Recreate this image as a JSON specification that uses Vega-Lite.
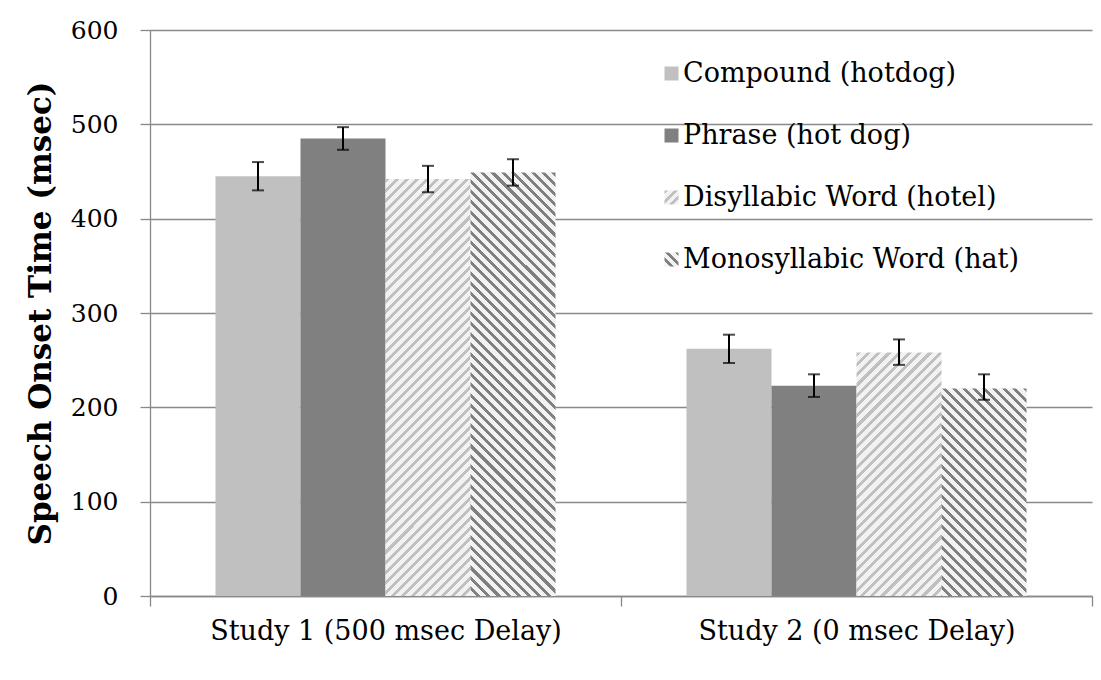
{
  "$schema": "https://vega.github.io/schema/vega-lite/v6.json",
  "width": 942,
  "height": 566,
  "autosize": {"type": "none"},
  "padding": {"left": 150, "top": 30, "right": 9, "bottom": 84},
  "background": "white",
  "data": {"values": [
    {"study": "Study 1 (500 msec Delay)", "series": "Compound (hotdog)", "value": 445, "lo": 430, "hi": 460},
    {"study": "Study 1 (500 msec Delay)", "series": "Phrase (hot dog)", "value": 485, "lo": 473, "hi": 497},
    {"study": "Study 1 (500 msec Delay)", "series": "Disyllabic Word (hotel)", "value": 442, "lo": 428, "hi": 456},
    {"study": "Study 1 (500 msec Delay)", "series": "Monosyllabic Word (hat)", "value": 449, "lo": 435, "hi": 463},
    {"study": "Study 2 (0 msec Delay)", "series": "Compound (hotdog)", "value": 262, "lo": 247, "hi": 277},
    {"study": "Study 2 (0 msec Delay)", "series": "Phrase (hot dog)", "value": 223, "lo": 211, "hi": 235},
    {"study": "Study 2 (0 msec Delay)", "series": "Disyllabic Word (hotel)", "value": 258, "lo": 245, "hi": 272},
    {"study": "Study 2 (0 msec Delay)", "series": "Monosyllabic Word (hat)", "value": 220, "lo": 208, "hi": 235}
  ]},
  "encoding": {
    "x": {"field": "study", "type": "nominal", "title": null, "sort": null,
      "scale": {"paddingInner": 0, "paddingOuter": 0},
      "axis": {"tickBand": "extent", "labelAngle": 0, "grid": false, "labelLimit": 600}},
    "xOffset": {"field": "series", "type": "nominal",
      "scale": {"domain": ["Compound (hotdog)", "Phrase (hot dog)", "Disyllabic Word (hotel)", "Monosyllabic Word (hat)"], "paddingInner": 0, "paddingOuter": 0.7706}}
  },
  "layer": [
    {
      "transform": [{"filter": "datum.series === 'Compound (hotdog)' || datum.series === 'Phrase (hot dog)'"}],
      "mark": {"type": "bar"},
      "encoding": {
        "y": {"field": "value", "type": "quantitative", "title": "Speech Onset Time (msec)", "scale": {"domain": [0, 600], "nice": false}},
        "color": {"field": "series", "type": "nominal",
          "scale": {"domain": ["Compound (hotdog)", "Phrase (hot dog)", "Disyllabic Word (hotel)", "Monosyllabic Word (hat)"],
                    "range": ["silver", "gray",
                      {"expr": "{gradient:'linear',x1:0,y1:0,x2:1,y2:1,stops:[{offset:0,color:'silver'},{offset:0.1333,color:'silver'},{offset:0.1333,color:'#f2f2f2'},{offset:0.3333,color:'#f2f2f2'},{offset:0.3333,color:'silver'},{offset:0.4667,color:'silver'},{offset:0.4667,color:'#f2f2f2'},{offset:0.6667,color:'#f2f2f2'},{offset:0.6667,color:'silver'},{offset:0.8,color:'silver'},{offset:0.8,color:'#f2f2f2'},{offset:1,color:'#f2f2f2'}]}"},
                      {"expr": "{gradient:'linear',x1:1,y1:0,x2:0,y2:1,stops:[{offset:0,color:'gray'},{offset:0.1333,color:'gray'},{offset:0.1333,color:'#f2f2f2'},{offset:0.3333,color:'#f2f2f2'},{offset:0.3333,color:'gray'},{offset:0.4667,color:'gray'},{offset:0.4667,color:'#f2f2f2'},{offset:0.6667,color:'#f2f2f2'},{offset:0.6667,color:'gray'},{offset:0.8,color:'gray'},{offset:0.8,color:'#f2f2f2'},{offset:1,color:'#f2f2f2'}]}"}
                    ]},
          "legend": {"title": null, "orient": "none", "legendX": 508, "legendY": 30, "direction": "vertical",
            "symbolType": "square", "symbolSize": 196, "symbolStrokeWidth": 0,
            "labelFont": "DejaVu Serif", "labelFontSize": 27, "labelColor": "black", "labelOffset": -2,
            "rowPadding": 34, "padding": 0, "labelLimit": 600}
        }
      }
    },
    {
      "transform": [{"filter": "datum.series === 'Disyllabic Word (hotel)' && datum.study === 'Study 1 (500 msec Delay)'"}],
      "mark": {"type": "bar", "fill": {"gradient": "linear", "x1": 0, "y1": 0, "x2": 0.2357, "y2": 1.1558, "stops": [
        {"offset":0,"color":"silver"},{"offset":0.008,"color":"silver"},{"offset":0.008,"color":"#f2f2f2"},{"offset":0.02,"color":"#f2f2f2"},
        {"offset":0.02,"color":"silver"},{"offset":0.028,"color":"silver"},{"offset":0.028,"color":"#f2f2f2"},{"offset":0.04,"color":"#f2f2f2"},
        {"offset":0.04,"color":"silver"},{"offset":0.048,"color":"silver"},{"offset":0.048,"color":"#f2f2f2"},{"offset":0.06,"color":"#f2f2f2"},
        {"offset":0.06,"color":"silver"},{"offset":0.068,"color":"silver"},{"offset":0.068,"color":"#f2f2f2"},{"offset":0.08,"color":"#f2f2f2"},
        {"offset":0.08,"color":"silver"},{"offset":0.088,"color":"silver"},{"offset":0.088,"color":"#f2f2f2"},{"offset":0.1,"color":"#f2f2f2"},
        {"offset":0.1,"color":"silver"},{"offset":0.108,"color":"silver"},{"offset":0.108,"color":"#f2f2f2"},{"offset":0.12,"color":"#f2f2f2"},
        {"offset":0.12,"color":"silver"},{"offset":0.128,"color":"silver"},{"offset":0.128,"color":"#f2f2f2"},{"offset":0.14,"color":"#f2f2f2"},
        {"offset":0.14,"color":"silver"},{"offset":0.148,"color":"silver"},{"offset":0.148,"color":"#f2f2f2"},{"offset":0.16,"color":"#f2f2f2"},
        {"offset":0.16,"color":"silver"},{"offset":0.168,"color":"silver"},{"offset":0.168,"color":"#f2f2f2"},{"offset":0.18,"color":"#f2f2f2"},
        {"offset":0.18,"color":"silver"},{"offset":0.188,"color":"silver"},{"offset":0.188,"color":"#f2f2f2"},{"offset":0.2,"color":"#f2f2f2"},
        {"offset":0.2,"color":"silver"},{"offset":0.208,"color":"silver"},{"offset":0.208,"color":"#f2f2f2"},{"offset":0.22,"color":"#f2f2f2"},
        {"offset":0.22,"color":"silver"},{"offset":0.228,"color":"silver"},{"offset":0.228,"color":"#f2f2f2"},{"offset":0.24,"color":"#f2f2f2"},
        {"offset":0.24,"color":"silver"},{"offset":0.248,"color":"silver"},{"offset":0.248,"color":"#f2f2f2"},{"offset":0.26,"color":"#f2f2f2"},
        {"offset":0.26,"color":"silver"},{"offset":0.268,"color":"silver"},{"offset":0.268,"color":"#f2f2f2"},{"offset":0.28,"color":"#f2f2f2"},
        {"offset":0.28,"color":"silver"},{"offset":0.288,"color":"silver"},{"offset":0.288,"color":"#f2f2f2"},{"offset":0.3,"color":"#f2f2f2"},
        {"offset":0.3,"color":"silver"},{"offset":0.308,"color":"silver"},{"offset":0.308,"color":"#f2f2f2"},{"offset":0.32,"color":"#f2f2f2"},
        {"offset":0.32,"color":"silver"},{"offset":0.328,"color":"silver"},{"offset":0.328,"color":"#f2f2f2"},{"offset":0.34,"color":"#f2f2f2"},
        {"offset":0.34,"color":"silver"},{"offset":0.348,"color":"silver"},{"offset":0.348,"color":"#f2f2f2"},{"offset":0.36,"color":"#f2f2f2"},
        {"offset":0.36,"color":"silver"},{"offset":0.368,"color":"silver"},{"offset":0.368,"color":"#f2f2f2"},{"offset":0.38,"color":"#f2f2f2"},
        {"offset":0.38,"color":"silver"},{"offset":0.388,"color":"silver"},{"offset":0.388,"color":"#f2f2f2"},{"offset":0.4,"color":"#f2f2f2"},
        {"offset":0.4,"color":"silver"},{"offset":0.408,"color":"silver"},{"offset":0.408,"color":"#f2f2f2"},{"offset":0.42,"color":"#f2f2f2"},
        {"offset":0.42,"color":"silver"},{"offset":0.428,"color":"silver"},{"offset":0.428,"color":"#f2f2f2"},{"offset":0.44,"color":"#f2f2f2"},
        {"offset":0.44,"color":"silver"},{"offset":0.448,"color":"silver"},{"offset":0.448,"color":"#f2f2f2"},{"offset":0.46,"color":"#f2f2f2"},
        {"offset":0.46,"color":"silver"},{"offset":0.468,"color":"silver"},{"offset":0.468,"color":"#f2f2f2"},{"offset":0.48,"color":"#f2f2f2"},
        {"offset":0.48,"color":"silver"},{"offset":0.488,"color":"silver"},{"offset":0.488,"color":"#f2f2f2"},{"offset":0.5,"color":"#f2f2f2"},
        {"offset":0.5,"color":"silver"},{"offset":0.508,"color":"silver"},{"offset":0.508,"color":"#f2f2f2"},{"offset":0.52,"color":"#f2f2f2"},
        {"offset":0.52,"color":"silver"},{"offset":0.528,"color":"silver"},{"offset":0.528,"color":"#f2f2f2"},{"offset":0.54,"color":"#f2f2f2"},
        {"offset":0.54,"color":"silver"},{"offset":0.548,"color":"silver"},{"offset":0.548,"color":"#f2f2f2"},{"offset":0.56,"color":"#f2f2f2"},
        {"offset":0.56,"color":"silver"},{"offset":0.568,"color":"silver"},{"offset":0.568,"color":"#f2f2f2"},{"offset":0.58,"color":"#f2f2f2"},
        {"offset":0.58,"color":"silver"},{"offset":0.588,"color":"silver"},{"offset":0.588,"color":"#f2f2f2"},{"offset":0.6,"color":"#f2f2f2"},
        {"offset":0.6,"color":"silver"},{"offset":0.608,"color":"silver"},{"offset":0.608,"color":"#f2f2f2"},{"offset":0.62,"color":"#f2f2f2"},
        {"offset":0.62,"color":"silver"},{"offset":0.628,"color":"silver"},{"offset":0.628,"color":"#f2f2f2"},{"offset":0.64,"color":"#f2f2f2"},
        {"offset":0.64,"color":"silver"},{"offset":0.648,"color":"silver"},{"offset":0.648,"color":"#f2f2f2"},{"offset":0.66,"color":"#f2f2f2"},
        {"offset":0.66,"color":"silver"},{"offset":0.668,"color":"silver"},{"offset":0.668,"color":"#f2f2f2"},{"offset":0.68,"color":"#f2f2f2"},
        {"offset":0.68,"color":"silver"},{"offset":0.688,"color":"silver"},{"offset":0.688,"color":"#f2f2f2"},{"offset":0.7,"color":"#f2f2f2"},
        {"offset":0.7,"color":"silver"},{"offset":0.708,"color":"silver"},{"offset":0.708,"color":"#f2f2f2"},{"offset":0.72,"color":"#f2f2f2"},
        {"offset":0.72,"color":"silver"},{"offset":0.728,"color":"silver"},{"offset":0.728,"color":"#f2f2f2"},{"offset":0.74,"color":"#f2f2f2"},
        {"offset":0.74,"color":"silver"},{"offset":0.748,"color":"silver"},{"offset":0.748,"color":"#f2f2f2"},{"offset":0.76,"color":"#f2f2f2"},
        {"offset":0.76,"color":"silver"},{"offset":0.768,"color":"silver"},{"offset":0.768,"color":"#f2f2f2"},{"offset":0.78,"color":"#f2f2f2"},
        {"offset":0.78,"color":"silver"},{"offset":0.788,"color":"silver"},{"offset":0.788,"color":"#f2f2f2"},{"offset":0.8,"color":"#f2f2f2"},
        {"offset":0.8,"color":"silver"},{"offset":0.808,"color":"silver"},{"offset":0.808,"color":"#f2f2f2"},{"offset":0.82,"color":"#f2f2f2"},
        {"offset":0.82,"color":"silver"},{"offset":0.828,"color":"silver"},{"offset":0.828,"color":"#f2f2f2"},{"offset":0.84,"color":"#f2f2f2"},
        {"offset":0.84,"color":"silver"},{"offset":0.848,"color":"silver"},{"offset":0.848,"color":"#f2f2f2"},{"offset":0.86,"color":"#f2f2f2"},
        {"offset":0.86,"color":"silver"},{"offset":0.868,"color":"silver"},{"offset":0.868,"color":"#f2f2f2"},{"offset":0.88,"color":"#f2f2f2"},
        {"offset":0.88,"color":"silver"},{"offset":0.888,"color":"silver"},{"offset":0.888,"color":"#f2f2f2"},{"offset":0.9,"color":"#f2f2f2"},
        {"offset":0.9,"color":"silver"},{"offset":0.908,"color":"silver"},{"offset":0.908,"color":"#f2f2f2"},{"offset":0.92,"color":"#f2f2f2"},
        {"offset":0.92,"color":"silver"},{"offset":0.928,"color":"silver"},{"offset":0.928,"color":"#f2f2f2"},{"offset":0.94,"color":"#f2f2f2"},
        {"offset":0.94,"color":"silver"},{"offset":0.948,"color":"silver"},{"offset":0.948,"color":"#f2f2f2"},{"offset":0.96,"color":"#f2f2f2"},
        {"offset":0.96,"color":"silver"},{"offset":0.968,"color":"silver"},{"offset":0.968,"color":"#f2f2f2"},{"offset":0.98,"color":"#f2f2f2"},
        {"offset":0.98,"color":"silver"},{"offset":0.988,"color":"silver"},{"offset":0.988,"color":"#f2f2f2"},{"offset":1,"color":"#f2f2f2"}
      ]}},
      "encoding": {
        "y": {"field": "value", "type": "quantitative", "title": "Speech Onset Time (msec)"}
      }
    },
    {
      "transform": [{"filter": "datum.series === 'Monosyllabic Word (hat)' && datum.study === 'Study 1 (500 msec Delay)'"}],
      "mark": {"type": "bar", "fill": {"gradient": "linear", "x1": 1, "y1": 0, "x2": 0.7684, "y2": 1.1542, "stops": [
        {"offset":0,"color":"gray"},{"offset":0.008,"color":"gray"},{"offset":0.008,"color":"#f2f2f2"},{"offset":0.02,"color":"#f2f2f2"},
        {"offset":0.02,"color":"gray"},{"offset":0.028,"color":"gray"},{"offset":0.028,"color":"#f2f2f2"},{"offset":0.04,"color":"#f2f2f2"},
        {"offset":0.04,"color":"gray"},{"offset":0.048,"color":"gray"},{"offset":0.048,"color":"#f2f2f2"},{"offset":0.06,"color":"#f2f2f2"},
        {"offset":0.06,"color":"gray"},{"offset":0.068,"color":"gray"},{"offset":0.068,"color":"#f2f2f2"},{"offset":0.08,"color":"#f2f2f2"},
        {"offset":0.08,"color":"gray"},{"offset":0.088,"color":"gray"},{"offset":0.088,"color":"#f2f2f2"},{"offset":0.1,"color":"#f2f2f2"},
        {"offset":0.1,"color":"gray"},{"offset":0.108,"color":"gray"},{"offset":0.108,"color":"#f2f2f2"},{"offset":0.12,"color":"#f2f2f2"},
        {"offset":0.12,"color":"gray"},{"offset":0.128,"color":"gray"},{"offset":0.128,"color":"#f2f2f2"},{"offset":0.14,"color":"#f2f2f2"},
        {"offset":0.14,"color":"gray"},{"offset":0.148,"color":"gray"},{"offset":0.148,"color":"#f2f2f2"},{"offset":0.16,"color":"#f2f2f2"},
        {"offset":0.16,"color":"gray"},{"offset":0.168,"color":"gray"},{"offset":0.168,"color":"#f2f2f2"},{"offset":0.18,"color":"#f2f2f2"},
        {"offset":0.18,"color":"gray"},{"offset":0.188,"color":"gray"},{"offset":0.188,"color":"#f2f2f2"},{"offset":0.2,"color":"#f2f2f2"},
        {"offset":0.2,"color":"gray"},{"offset":0.208,"color":"gray"},{"offset":0.208,"color":"#f2f2f2"},{"offset":0.22,"color":"#f2f2f2"},
        {"offset":0.22,"color":"gray"},{"offset":0.228,"color":"gray"},{"offset":0.228,"color":"#f2f2f2"},{"offset":0.24,"color":"#f2f2f2"},
        {"offset":0.24,"color":"gray"},{"offset":0.248,"color":"gray"},{"offset":0.248,"color":"#f2f2f2"},{"offset":0.26,"color":"#f2f2f2"},
        {"offset":0.26,"color":"gray"},{"offset":0.268,"color":"gray"},{"offset":0.268,"color":"#f2f2f2"},{"offset":0.28,"color":"#f2f2f2"},
        {"offset":0.28,"color":"gray"},{"offset":0.288,"color":"gray"},{"offset":0.288,"color":"#f2f2f2"},{"offset":0.3,"color":"#f2f2f2"},
        {"offset":0.3,"color":"gray"},{"offset":0.308,"color":"gray"},{"offset":0.308,"color":"#f2f2f2"},{"offset":0.32,"color":"#f2f2f2"},
        {"offset":0.32,"color":"gray"},{"offset":0.328,"color":"gray"},{"offset":0.328,"color":"#f2f2f2"},{"offset":0.34,"color":"#f2f2f2"},
        {"offset":0.34,"color":"gray"},{"offset":0.348,"color":"gray"},{"offset":0.348,"color":"#f2f2f2"},{"offset":0.36,"color":"#f2f2f2"},
        {"offset":0.36,"color":"gray"},{"offset":0.368,"color":"gray"},{"offset":0.368,"color":"#f2f2f2"},{"offset":0.38,"color":"#f2f2f2"},
        {"offset":0.38,"color":"gray"},{"offset":0.388,"color":"gray"},{"offset":0.388,"color":"#f2f2f2"},{"offset":0.4,"color":"#f2f2f2"},
        {"offset":0.4,"color":"gray"},{"offset":0.408,"color":"gray"},{"offset":0.408,"color":"#f2f2f2"},{"offset":0.42,"color":"#f2f2f2"},
        {"offset":0.42,"color":"gray"},{"offset":0.428,"color":"gray"},{"offset":0.428,"color":"#f2f2f2"},{"offset":0.44,"color":"#f2f2f2"},
        {"offset":0.44,"color":"gray"},{"offset":0.448,"color":"gray"},{"offset":0.448,"color":"#f2f2f2"},{"offset":0.46,"color":"#f2f2f2"},
        {"offset":0.46,"color":"gray"},{"offset":0.468,"color":"gray"},{"offset":0.468,"color":"#f2f2f2"},{"offset":0.48,"color":"#f2f2f2"},
        {"offset":0.48,"color":"gray"},{"offset":0.488,"color":"gray"},{"offset":0.488,"color":"#f2f2f2"},{"offset":0.5,"color":"#f2f2f2"},
        {"offset":0.5,"color":"gray"},{"offset":0.508,"color":"gray"},{"offset":0.508,"color":"#f2f2f2"},{"offset":0.52,"color":"#f2f2f2"},
        {"offset":0.52,"color":"gray"},{"offset":0.528,"color":"gray"},{"offset":0.528,"color":"#f2f2f2"},{"offset":0.54,"color":"#f2f2f2"},
        {"offset":0.54,"color":"gray"},{"offset":0.548,"color":"gray"},{"offset":0.548,"color":"#f2f2f2"},{"offset":0.56,"color":"#f2f2f2"},
        {"offset":0.56,"color":"gray"},{"offset":0.568,"color":"gray"},{"offset":0.568,"color":"#f2f2f2"},{"offset":0.58,"color":"#f2f2f2"},
        {"offset":0.58,"color":"gray"},{"offset":0.588,"color":"gray"},{"offset":0.588,"color":"#f2f2f2"},{"offset":0.6,"color":"#f2f2f2"},
        {"offset":0.6,"color":"gray"},{"offset":0.608,"color":"gray"},{"offset":0.608,"color":"#f2f2f2"},{"offset":0.62,"color":"#f2f2f2"},
        {"offset":0.62,"color":"gray"},{"offset":0.628,"color":"gray"},{"offset":0.628,"color":"#f2f2f2"},{"offset":0.64,"color":"#f2f2f2"},
        {"offset":0.64,"color":"gray"},{"offset":0.648,"color":"gray"},{"offset":0.648,"color":"#f2f2f2"},{"offset":0.66,"color":"#f2f2f2"},
        {"offset":0.66,"color":"gray"},{"offset":0.668,"color":"gray"},{"offset":0.668,"color":"#f2f2f2"},{"offset":0.68,"color":"#f2f2f2"},
        {"offset":0.68,"color":"gray"},{"offset":0.688,"color":"gray"},{"offset":0.688,"color":"#f2f2f2"},{"offset":0.7,"color":"#f2f2f2"},
        {"offset":0.7,"color":"gray"},{"offset":0.708,"color":"gray"},{"offset":0.708,"color":"#f2f2f2"},{"offset":0.72,"color":"#f2f2f2"},
        {"offset":0.72,"color":"gray"},{"offset":0.728,"color":"gray"},{"offset":0.728,"color":"#f2f2f2"},{"offset":0.74,"color":"#f2f2f2"},
        {"offset":0.74,"color":"gray"},{"offset":0.748,"color":"gray"},{"offset":0.748,"color":"#f2f2f2"},{"offset":0.76,"color":"#f2f2f2"},
        {"offset":0.76,"color":"gray"},{"offset":0.768,"color":"gray"},{"offset":0.768,"color":"#f2f2f2"},{"offset":0.78,"color":"#f2f2f2"},
        {"offset":0.78,"color":"gray"},{"offset":0.788,"color":"gray"},{"offset":0.788,"color":"#f2f2f2"},{"offset":0.8,"color":"#f2f2f2"},
        {"offset":0.8,"color":"gray"},{"offset":0.808,"color":"gray"},{"offset":0.808,"color":"#f2f2f2"},{"offset":0.82,"color":"#f2f2f2"},
        {"offset":0.82,"color":"gray"},{"offset":0.828,"color":"gray"},{"offset":0.828,"color":"#f2f2f2"},{"offset":0.84,"color":"#f2f2f2"},
        {"offset":0.84,"color":"gray"},{"offset":0.848,"color":"gray"},{"offset":0.848,"color":"#f2f2f2"},{"offset":0.86,"color":"#f2f2f2"},
        {"offset":0.86,"color":"gray"},{"offset":0.868,"color":"gray"},{"offset":0.868,"color":"#f2f2f2"},{"offset":0.88,"color":"#f2f2f2"},
        {"offset":0.88,"color":"gray"},{"offset":0.888,"color":"gray"},{"offset":0.888,"color":"#f2f2f2"},{"offset":0.9,"color":"#f2f2f2"},
        {"offset":0.9,"color":"gray"},{"offset":0.908,"color":"gray"},{"offset":0.908,"color":"#f2f2f2"},{"offset":0.92,"color":"#f2f2f2"},
        {"offset":0.92,"color":"gray"},{"offset":0.928,"color":"gray"},{"offset":0.928,"color":"#f2f2f2"},{"offset":0.94,"color":"#f2f2f2"},
        {"offset":0.94,"color":"gray"},{"offset":0.948,"color":"gray"},{"offset":0.948,"color":"#f2f2f2"},{"offset":0.96,"color":"#f2f2f2"},
        {"offset":0.96,"color":"gray"},{"offset":0.968,"color":"gray"},{"offset":0.968,"color":"#f2f2f2"},{"offset":0.98,"color":"#f2f2f2"},
        {"offset":0.98,"color":"gray"},{"offset":0.988,"color":"gray"},{"offset":0.988,"color":"#f2f2f2"},{"offset":1,"color":"#f2f2f2"}
      ]}},
      "encoding": {
        "y": {"field": "value", "type": "quantitative", "title": "Speech Onset Time (msec)"}
      }
    },
    {
      "transform": [{"filter": "datum.series === 'Disyllabic Word (hotel)' && datum.study === 'Study 2 (0 msec Delay)'"}],
      "mark": {"type": "bar", "fill": {"gradient": "linear", "x1": 0, "y1": 0, "x2": 0.42, "y2": 1.2026, "stops": [
        {"offset":0,"color":"silver"},{"offset":0.0125,"color":"silver"},{"offset":0.0125,"color":"#f2f2f2"},{"offset":0.03125,"color":"#f2f2f2"},
        {"offset":0.03125,"color":"silver"},{"offset":0.04375,"color":"silver"},{"offset":0.04375,"color":"#f2f2f2"},{"offset":0.0625,"color":"#f2f2f2"},
        {"offset":0.0625,"color":"silver"},{"offset":0.075,"color":"silver"},{"offset":0.075,"color":"#f2f2f2"},{"offset":0.09375,"color":"#f2f2f2"},
        {"offset":0.09375,"color":"silver"},{"offset":0.10625,"color":"silver"},{"offset":0.10625,"color":"#f2f2f2"},{"offset":0.125,"color":"#f2f2f2"},
        {"offset":0.125,"color":"silver"},{"offset":0.1375,"color":"silver"},{"offset":0.1375,"color":"#f2f2f2"},{"offset":0.15625,"color":"#f2f2f2"},
        {"offset":0.15625,"color":"silver"},{"offset":0.16875,"color":"silver"},{"offset":0.16875,"color":"#f2f2f2"},{"offset":0.1875,"color":"#f2f2f2"},
        {"offset":0.1875,"color":"silver"},{"offset":0.2,"color":"silver"},{"offset":0.2,"color":"#f2f2f2"},{"offset":0.21875,"color":"#f2f2f2"},
        {"offset":0.21875,"color":"silver"},{"offset":0.23125,"color":"silver"},{"offset":0.23125,"color":"#f2f2f2"},{"offset":0.25,"color":"#f2f2f2"},
        {"offset":0.25,"color":"silver"},{"offset":0.2625,"color":"silver"},{"offset":0.2625,"color":"#f2f2f2"},{"offset":0.28125,"color":"#f2f2f2"},
        {"offset":0.28125,"color":"silver"},{"offset":0.29375,"color":"silver"},{"offset":0.29375,"color":"#f2f2f2"},{"offset":0.3125,"color":"#f2f2f2"},
        {"offset":0.3125,"color":"silver"},{"offset":0.325,"color":"silver"},{"offset":0.325,"color":"#f2f2f2"},{"offset":0.34375,"color":"#f2f2f2"},
        {"offset":0.34375,"color":"silver"},{"offset":0.35625,"color":"silver"},{"offset":0.35625,"color":"#f2f2f2"},{"offset":0.375,"color":"#f2f2f2"},
        {"offset":0.375,"color":"silver"},{"offset":0.3875,"color":"silver"},{"offset":0.3875,"color":"#f2f2f2"},{"offset":0.40625,"color":"#f2f2f2"},
        {"offset":0.40625,"color":"silver"},{"offset":0.41875,"color":"silver"},{"offset":0.41875,"color":"#f2f2f2"},{"offset":0.4375,"color":"#f2f2f2"},
        {"offset":0.4375,"color":"silver"},{"offset":0.45,"color":"silver"},{"offset":0.45,"color":"#f2f2f2"},{"offset":0.46875,"color":"#f2f2f2"},
        {"offset":0.46875,"color":"silver"},{"offset":0.48125,"color":"silver"},{"offset":0.48125,"color":"#f2f2f2"},{"offset":0.5,"color":"#f2f2f2"},
        {"offset":0.5,"color":"silver"},{"offset":0.5125,"color":"silver"},{"offset":0.5125,"color":"#f2f2f2"},{"offset":0.53125,"color":"#f2f2f2"},
        {"offset":0.53125,"color":"silver"},{"offset":0.54375,"color":"silver"},{"offset":0.54375,"color":"#f2f2f2"},{"offset":0.5625,"color":"#f2f2f2"},
        {"offset":0.5625,"color":"silver"},{"offset":0.575,"color":"silver"},{"offset":0.575,"color":"#f2f2f2"},{"offset":0.59375,"color":"#f2f2f2"},
        {"offset":0.59375,"color":"silver"},{"offset":0.60625,"color":"silver"},{"offset":0.60625,"color":"#f2f2f2"},{"offset":0.625,"color":"#f2f2f2"},
        {"offset":0.625,"color":"silver"},{"offset":0.6375,"color":"silver"},{"offset":0.6375,"color":"#f2f2f2"},{"offset":0.65625,"color":"#f2f2f2"},
        {"offset":0.65625,"color":"silver"},{"offset":0.66875,"color":"silver"},{"offset":0.66875,"color":"#f2f2f2"},{"offset":0.6875,"color":"#f2f2f2"},
        {"offset":0.6875,"color":"silver"},{"offset":0.7,"color":"silver"},{"offset":0.7,"color":"#f2f2f2"},{"offset":0.71875,"color":"#f2f2f2"},
        {"offset":0.71875,"color":"silver"},{"offset":0.73125,"color":"silver"},{"offset":0.73125,"color":"#f2f2f2"},{"offset":0.75,"color":"#f2f2f2"},
        {"offset":0.75,"color":"silver"},{"offset":0.7625,"color":"silver"},{"offset":0.7625,"color":"#f2f2f2"},{"offset":0.78125,"color":"#f2f2f2"},
        {"offset":0.78125,"color":"silver"},{"offset":0.79375,"color":"silver"},{"offset":0.79375,"color":"#f2f2f2"},{"offset":0.8125,"color":"#f2f2f2"},
        {"offset":0.8125,"color":"silver"},{"offset":0.825,"color":"silver"},{"offset":0.825,"color":"#f2f2f2"},{"offset":0.84375,"color":"#f2f2f2"},
        {"offset":0.84375,"color":"silver"},{"offset":0.85625,"color":"silver"},{"offset":0.85625,"color":"#f2f2f2"},{"offset":0.875,"color":"#f2f2f2"},
        {"offset":0.875,"color":"silver"},{"offset":0.8875,"color":"silver"},{"offset":0.8875,"color":"#f2f2f2"},{"offset":0.90625,"color":"#f2f2f2"},
        {"offset":0.90625,"color":"silver"},{"offset":0.91875,"color":"silver"},{"offset":0.91875,"color":"#f2f2f2"},{"offset":0.9375,"color":"#f2f2f2"},
        {"offset":0.9375,"color":"silver"},{"offset":0.95,"color":"silver"},{"offset":0.95,"color":"#f2f2f2"},{"offset":0.96875,"color":"#f2f2f2"},
        {"offset":0.96875,"color":"silver"},{"offset":0.98125,"color":"silver"},{"offset":0.98125,"color":"#f2f2f2"},{"offset":1,"color":"#f2f2f2"}
      ]}},
      "encoding": {
        "y": {"field": "value", "type": "quantitative", "title": "Speech Onset Time (msec)"}
      }
    },
    {
      "transform": [{"filter": "datum.series === 'Monosyllabic Word (hat)' && datum.study === 'Study 2 (0 msec Delay)'"}],
      "mark": {"type": "bar", "fill": {"gradient": "linear", "x1": 1, "y1": 0, "x2": 0.4566, "y2": 1.3265, "stops": [
        {"offset":0,"color":"gray"},{"offset":0.0125,"color":"gray"},{"offset":0.0125,"color":"#f2f2f2"},{"offset":0.03125,"color":"#f2f2f2"},
        {"offset":0.03125,"color":"gray"},{"offset":0.04375,"color":"gray"},{"offset":0.04375,"color":"#f2f2f2"},{"offset":0.0625,"color":"#f2f2f2"},
        {"offset":0.0625,"color":"gray"},{"offset":0.075,"color":"gray"},{"offset":0.075,"color":"#f2f2f2"},{"offset":0.09375,"color":"#f2f2f2"},
        {"offset":0.09375,"color":"gray"},{"offset":0.10625,"color":"gray"},{"offset":0.10625,"color":"#f2f2f2"},{"offset":0.125,"color":"#f2f2f2"},
        {"offset":0.125,"color":"gray"},{"offset":0.1375,"color":"gray"},{"offset":0.1375,"color":"#f2f2f2"},{"offset":0.15625,"color":"#f2f2f2"},
        {"offset":0.15625,"color":"gray"},{"offset":0.16875,"color":"gray"},{"offset":0.16875,"color":"#f2f2f2"},{"offset":0.1875,"color":"#f2f2f2"},
        {"offset":0.1875,"color":"gray"},{"offset":0.2,"color":"gray"},{"offset":0.2,"color":"#f2f2f2"},{"offset":0.21875,"color":"#f2f2f2"},
        {"offset":0.21875,"color":"gray"},{"offset":0.23125,"color":"gray"},{"offset":0.23125,"color":"#f2f2f2"},{"offset":0.25,"color":"#f2f2f2"},
        {"offset":0.25,"color":"gray"},{"offset":0.2625,"color":"gray"},{"offset":0.2625,"color":"#f2f2f2"},{"offset":0.28125,"color":"#f2f2f2"},
        {"offset":0.28125,"color":"gray"},{"offset":0.29375,"color":"gray"},{"offset":0.29375,"color":"#f2f2f2"},{"offset":0.3125,"color":"#f2f2f2"},
        {"offset":0.3125,"color":"gray"},{"offset":0.325,"color":"gray"},{"offset":0.325,"color":"#f2f2f2"},{"offset":0.34375,"color":"#f2f2f2"},
        {"offset":0.34375,"color":"gray"},{"offset":0.35625,"color":"gray"},{"offset":0.35625,"color":"#f2f2f2"},{"offset":0.375,"color":"#f2f2f2"},
        {"offset":0.375,"color":"gray"},{"offset":0.3875,"color":"gray"},{"offset":0.3875,"color":"#f2f2f2"},{"offset":0.40625,"color":"#f2f2f2"},
        {"offset":0.40625,"color":"gray"},{"offset":0.41875,"color":"gray"},{"offset":0.41875,"color":"#f2f2f2"},{"offset":0.4375,"color":"#f2f2f2"},
        {"offset":0.4375,"color":"gray"},{"offset":0.45,"color":"gray"},{"offset":0.45,"color":"#f2f2f2"},{"offset":0.46875,"color":"#f2f2f2"},
        {"offset":0.46875,"color":"gray"},{"offset":0.48125,"color":"gray"},{"offset":0.48125,"color":"#f2f2f2"},{"offset":0.5,"color":"#f2f2f2"},
        {"offset":0.5,"color":"gray"},{"offset":0.5125,"color":"gray"},{"offset":0.5125,"color":"#f2f2f2"},{"offset":0.53125,"color":"#f2f2f2"},
        {"offset":0.53125,"color":"gray"},{"offset":0.54375,"color":"gray"},{"offset":0.54375,"color":"#f2f2f2"},{"offset":0.5625,"color":"#f2f2f2"},
        {"offset":0.5625,"color":"gray"},{"offset":0.575,"color":"gray"},{"offset":0.575,"color":"#f2f2f2"},{"offset":0.59375,"color":"#f2f2f2"},
        {"offset":0.59375,"color":"gray"},{"offset":0.60625,"color":"gray"},{"offset":0.60625,"color":"#f2f2f2"},{"offset":0.625,"color":"#f2f2f2"},
        {"offset":0.625,"color":"gray"},{"offset":0.6375,"color":"gray"},{"offset":0.6375,"color":"#f2f2f2"},{"offset":0.65625,"color":"#f2f2f2"},
        {"offset":0.65625,"color":"gray"},{"offset":0.66875,"color":"gray"},{"offset":0.66875,"color":"#f2f2f2"},{"offset":0.6875,"color":"#f2f2f2"},
        {"offset":0.6875,"color":"gray"},{"offset":0.7,"color":"gray"},{"offset":0.7,"color":"#f2f2f2"},{"offset":0.71875,"color":"#f2f2f2"},
        {"offset":0.71875,"color":"gray"},{"offset":0.73125,"color":"gray"},{"offset":0.73125,"color":"#f2f2f2"},{"offset":0.75,"color":"#f2f2f2"},
        {"offset":0.75,"color":"gray"},{"offset":0.7625,"color":"gray"},{"offset":0.7625,"color":"#f2f2f2"},{"offset":0.78125,"color":"#f2f2f2"},
        {"offset":0.78125,"color":"gray"},{"offset":0.79375,"color":"gray"},{"offset":0.79375,"color":"#f2f2f2"},{"offset":0.8125,"color":"#f2f2f2"},
        {"offset":0.8125,"color":"gray"},{"offset":0.825,"color":"gray"},{"offset":0.825,"color":"#f2f2f2"},{"offset":0.84375,"color":"#f2f2f2"},
        {"offset":0.84375,"color":"gray"},{"offset":0.85625,"color":"gray"},{"offset":0.85625,"color":"#f2f2f2"},{"offset":0.875,"color":"#f2f2f2"},
        {"offset":0.875,"color":"gray"},{"offset":0.8875,"color":"gray"},{"offset":0.8875,"color":"#f2f2f2"},{"offset":0.90625,"color":"#f2f2f2"},
        {"offset":0.90625,"color":"gray"},{"offset":0.91875,"color":"gray"},{"offset":0.91875,"color":"#f2f2f2"},{"offset":0.9375,"color":"#f2f2f2"},
        {"offset":0.9375,"color":"gray"},{"offset":0.95,"color":"gray"},{"offset":0.95,"color":"#f2f2f2"},{"offset":0.96875,"color":"#f2f2f2"},
        {"offset":0.96875,"color":"gray"},{"offset":0.98125,"color":"gray"},{"offset":0.98125,"color":"#f2f2f2"},{"offset":1,"color":"#f2f2f2"}
      ]}},
      "encoding": {
        "y": {"field": "value", "type": "quantitative", "title": "Speech Onset Time (msec)"}
      }
    },
    {
      "mark": {"type": "rule", "color": "black", "strokeWidth": 2},
      "encoding": {
        "y": {"field": "lo", "type": "quantitative", "title": "Speech Onset Time (msec)"},
        "y2": {"field": "hi"}
      }
    },
    {
      "mark": {"type": "tick", "color": "black", "thickness": 2, "size": 12},
      "encoding": {
        "y": {"field": "lo", "type": "quantitative", "title": "Speech Onset Time (msec)"}
      }
    },
    {
      "mark": {"type": "tick", "color": "black", "thickness": 2, "size": 12},
      "encoding": {
        "y": {"field": "hi", "type": "quantitative", "title": "Speech Onset Time (msec)"}
      }
    }
  ],
  "config": {
    "view": {"stroke": null},
    "axis": {"labelFont": "DejaVu Serif", "titleFont": "DejaVu Serif", "labelColor": "black", "titleColor": "black",
      "domainColor": "#898989", "tickColor": "#898989", "gridColor": "#898989", "domainWidth": 1.3, "tickWidth": 1.3, "gridWidth": 1.3},
    "axisX": {"labelFontSize": 27, "tickSize": 10, "labelPadding": 12},
    "axisY": {"labelFontSize": 25, "labelPadding": 22, "tickSize": 10, "tickCount": 6, "titleFontSize": 31, "titleFontWeight": "bold", "titlePadding": 13}
  }
}
